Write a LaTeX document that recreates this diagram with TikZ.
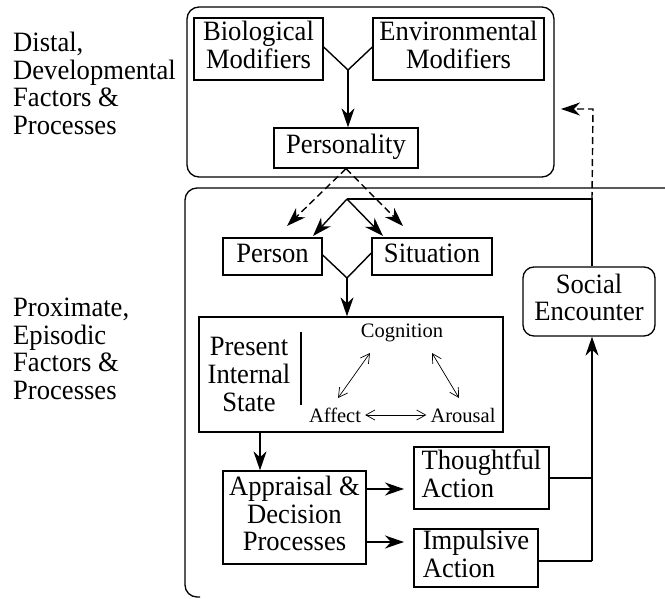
\documentclass[tikz,border=0pt]{standalone}
\usepackage{fontspec}
\usepackage{graphicx}
\setmainfont{Liberation Serif}
\usetikzlibrary{arrows.meta}
\newcommand{\BT}[2][c]{\scalebox{0.95}[1]{\fontsize{28}{27.5}\selectfont\begin{tabular}{@{}#1@{}}#2\end{tabular}}}
\begin{document}
\begin{tikzpicture}[x=1pt,y=-1pt,
  small/.style={font=\fontsize{20.5}{22}\selectfont},
  box/.style={draw,line width=1.3pt,inner sep=0pt},
  lab/.style={inner sep=0pt,anchor=north west},
  conn/.style={line width=1.4pt},
  arr/.style={conn,-{Stealth[length=19pt,width=13pt,inset=6pt]}},
  darr/.style={arr,dash pattern=on 7pt off 4pt},
  thin/.style={line width=0.7pt,{Straight Barb[length=9pt,width=10pt]}-{Straight Barb[length=9pt,width=10pt]}},
  frame/.style={line width=1.3pt,rounded corners=12pt}]
\useasboundingbox (0,0) rectangle (665,599);
\draw[frame] (187,7) rectangle (554,177);
\draw[frame] (665,188) -- (185,188) -- (185,597) -- (200,597);
\node[lab] (distal) at (13,32) {\BT[l]{Distal,\\Developmental\\Factors \&\\Processes}};
\node[lab] (prox) at (13,297) {\BT[l]{Proximate,\\Episodic\\Factors \&\\Processes}};
\node[box,minimum width=129,minimum height=62] (bio) at (258.5,49) {\BT{Biological\\Modifiers}};
\node[box,minimum width=171,minimum height=62] (env) at (458.5,49) {\BT{Environmental\\Modifiers}};
\node[box,minimum width=144,minimum height=40] (pers) at (346,148) {\BT{Personality}};
\node[box,minimum width=99,minimum height=37] (person) at (272.5,256.5) {\BT{Person}};
\node[box,minimum width=120,minimum height=37] (sit) at (432,256.5) {\BT{Situation}};
\node[box,minimum width=304,minimum height=115] (pis) at (351,374.5) {};
\node[inner sep=0pt] (pistext) at (249,378) {\BT{Present\\Internal\\State}};
\node[small,inner sep=0pt] (cog) at (402,333) {Cognition};
\node[small,inner sep=0pt] (aff) at (335,415) {Affect};
\node[small,inner sep=0pt] (aro) at (463,415) {Arousal};
\node[box,minimum width=143,minimum height=93] (app) at (294.5,517.5) {\BT{Appraisal \&\\Decision\\Processes}};
\node[box,minimum width=135,minimum height=62] (thou) at (481.5,478) {\BT[l]{Thoughtful\\Action}};
\node[box,minimum width=124,minimum height=58] (imp) at (476,558) {\BT[l]{Impulsive\\Action}};
\node[box,rounded corners=11pt,minimum width=132,minimum height=69] (soc) at (589,301.5) {\BT{Social\\Encounter}};
\coordinate (j1) at (348,70);
\coordinate (j2) at (347,278);
\coordinate (j3) at (347,199);
\coordinate (jr) at (592,199);
\coordinate (jd) at (593,109);
\coordinate (jt) at (561,109);
\coordinate (jb) at (592,561);
\coordinate (sep1) at (301,332);
\coordinate (sep2) at (301,405);
\coordinate (dp) at (287,226);
\coordinate (ds) at (403,226);
\coordinate (sp) at (313,236);
\coordinate (ss) at (383,236);
\draw[line width=1.4pt] (sep1) -- (sep2);
\draw[conn] (bio.east |- 0,47) -- (j1) -- (env.west |- 0,47);
\draw[arr] (j1) -- (j1 |- pers.north);
\draw[darr] (pers.south) -- (dp);
\draw[darr] (pers.south) -- (ds);
\draw[conn] (soc.north -| jr) -- (jr) -- (j3);
\draw[arr] (j3) -- (sp);
\draw[arr] (j3) -- (ss);
\draw[darr] (jr) -- (jd) -- (jt);
\draw[conn] (person.east |- 0,255) -- (j2) -- (sit.west |- 0,253);
\draw[arr] (j2) -- (j2 |- pis.north);
\draw[thin] (370,353) -- (338,398);
\draw[thin] (432,353) -- (459,398);
\draw[thin] ([xshift=4pt]aff.east) -- ([xshift=-4pt]aro.west);
\draw[arr] (260,0 |- pis.south) -- (260,0 |- app.north);
\draw[arr] (app.east |- 0,489) -- (404,489);
\draw[arr] (app.east |- 0,542) -- (404,542);
\draw[conn] (thou.east) -- (thou.east -| jb);
\draw[conn] (imp.east |- jb) -- (jb);
\draw[arr] (jb) -- (jb |- soc.south);
\end{tikzpicture}
\end{document}
